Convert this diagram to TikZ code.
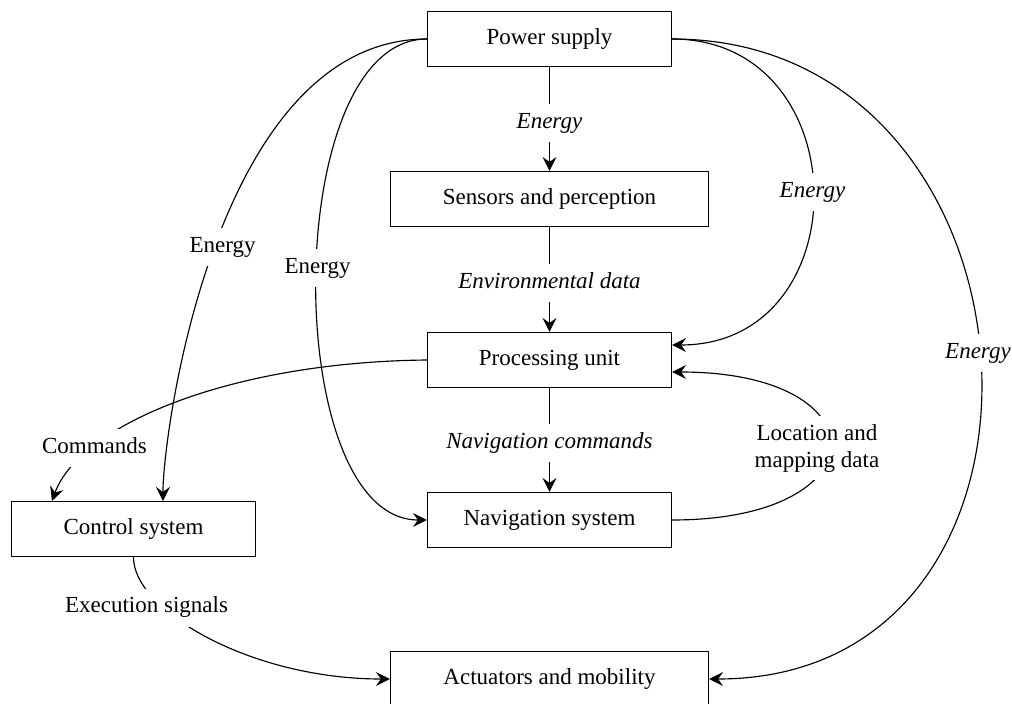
\documentclass[tikz,border=0pt]{standalone}
\usepackage{fontspec}
\setmainfont{Liberation Serif}
\usetikzlibrary{arrows.meta,calc}
\begin{document}
\begin{tikzpicture}[x=1pt,y=-1pt,line width=1.15pt,
  box/.style={draw,rectangle,minimum height=55pt,minimum width=244pt,inner sep=4pt,font=\fontsize{23}{27}\selectfont},
  lbl/.style={fill=white,inner xsep=5pt,inner ysep=9pt,text height=15pt,text depth=5pt,font=\fontsize{23}{27}\selectfont},
  lblit/.style={lbl,font=\fontsize{23}{27}\selectfont\itshape},
  lbltwo/.style={fill=white,inner xsep=5pt,inner ysep=8pt,align=center,font=\fontsize{23}{27}\selectfont},
  arr/.style={-{Stealth[length=14pt,width=14pt,inset=5pt]}}]
\useasboundingbox (0,0) rectangle (1012,704);
% boxes
\node[box] (pow) at (549.5,39) {Power supply};
\node[box,minimum width=318pt] (sens) at (549.5,199) {Sensors and perception};
\node[box] (proc) at (549.5,360) {Processing unit};
\node[box] (nav) at (549.5,520) {Navigation system};
\node[box] (ctrl) at (133.5,529) {Control system};
\node[box,minimum width=318pt] (act) at (549.5,679) {Actuators and mobility};
% anchor points
\coordinate (ctrlA) at ($(ctrl.north west)+(41,0)$);
\coordinate (ctrlB) at ($(ctrl.north west)+(152,0)$);
\coordinate (procE1) at ($(proc.east)+(0,-15)$);
\coordinate (procE2) at ($(proc.east)+(0,12)$);
% connectors
\draw[arr] (pow.south) -- (sens.north);
\draw[arr] (sens.south) -- (proc.north);
\draw[arr] (proc.south) -- (nav.north);
\draw[arr] (pow.west) .. controls (216,39) and (163,432) .. (ctrlB);
\draw[arr] (pow.west) .. controls (280,39) and (280,520) .. (nav.west);
\draw[arr] (pow.east) .. controls (859,39) and (861,345) .. (procE1);
\draw[arr] (pow.east) .. controls (1057,39) and (1096,679) .. (act.east);
\draw[arr] (proc.west) .. controls (230,362) and (80,425) .. (ctrlA);
\draw[arr] (nav.east) .. controls (882,520) and (883,372) .. (procE2);
\draw[arr] (ctrl.south) .. controls (133,610) and (250,679) .. (act.west);
% labels
\node[lblit] (le1) at (549.5,123) {Energy};
\node[lblit] (lenv) at (549.5,283) {Environmental data};
\node[lblit] (lnav) at (549.5,443) {Navigation commands};
\node[lbl] (le2) at (222.5,247) {Energy};
\node[lbl] (le3) at (317.5,268) {Energy};
\node[lblit] (le4) at (812.5,192) {Energy};
\node[lblit] (le5) at (978,353) {Energy};
\node[lbl] (lcmd) at (94.5,448) {Commands};
\node[lbltwo] (lloc) at (817,448) {Location and\\mapping data};
\node[lbl] (lexe) at (146.5,607.7) {Execution signals};
\end{tikzpicture}
\end{document}
